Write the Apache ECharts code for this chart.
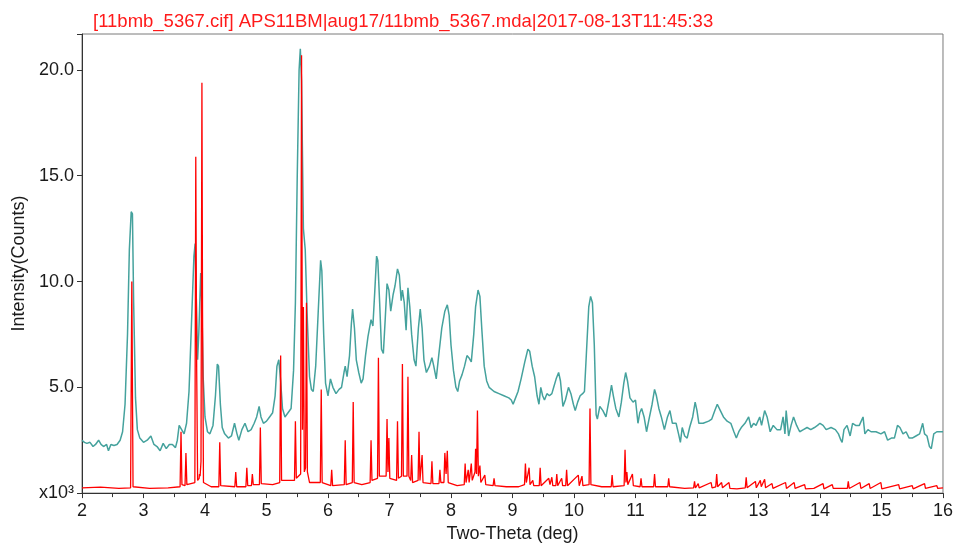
<!DOCTYPE html>
<html>
<head>
<meta charset="utf-8">
<script src="https://cdn.jsdelivr.net/npm/echarts@6/dist/echarts.min.js"></script>
<style>html,body{margin:0;padding:0;background:#fff;}#c{width:956px;height:548px;}</style>
</head>
<body>
<div id="c"></div>
<script>
const titleText = "[11bmb_5367.cif] APS11BM|aug17/11bmb_5367.mda|2017-08-13T11:45:33";
const xTicks = [2,3,4,5,6,7,8,9,10,11,12,13,14,15,16];
const yTicks = [0,5,10,15,20];

// measured pattern (teal), [two-theta, intensity x10^3]
const measured = [
[2.00,2.5],[2.04,2.4],[2.08,2.35],[2.13,2.4],[2.18,2.2],[2.22,2.3],[2.27,2.5],[2.31,2.3],[2.35,2.2],[2.40,2.3],
[2.43,2.0],[2.47,2.3],[2.52,2.25],[2.57,2.3],[2.62,2.5],[2.66,2.9],[2.70,4.2],[2.74,7.5],[2.77,11.5],[2.80,13.3],
[2.82,13.2],[2.84,9.0],[2.87,4.5],[2.90,3.0],[2.94,2.6],[3.00,2.4],[3.06,2.5],[3.12,2.7],[3.17,2.3],[3.22,2.2],
[3.27,2.0],[3.32,2.35],[3.37,2.1],[3.42,2.3],[3.47,2.3],[3.52,2.15],[3.55,2.5],[3.58,3.2],[3.62,3.0],[3.66,2.8],
[3.70,3.3],[3.74,4.8],[3.78,8.0],[3.82,11.2],[3.84,11.8],[3.86,9.0],[3.88,6.3],[3.90,7.6],[3.93,10.4],[3.95,8.8],
[3.97,5.5],[4.00,3.6],[4.04,2.9],[4.08,2.8],[4.13,3.2],[4.17,4.6],[4.20,6.1],[4.22,6.0],[4.25,4.2],[4.28,3.1],
[4.32,2.8],[4.38,2.6],[4.43,2.7],[4.48,3.3],[4.52,2.8],[4.55,2.5],[4.60,3.0],[4.65,3.3],[4.70,2.9],[4.75,3.0],
[4.80,3.3],[4.84,3.6],[4.88,4.1],[4.91,3.6],[4.95,3.3],[5.00,3.4],[5.05,3.6],[5.10,3.8],[5.14,4.6],[5.17,6.0],
[5.20,6.3],[5.23,5.3],[5.26,4.0],[5.30,3.6],[5.35,3.8],[5.40,4.0],[5.44,5.8],[5.47,9.0],[5.50,15.0],[5.53,20.0],
[5.55,21.0],[5.57,19.5],[5.60,12.5],[5.63,11.5],[5.66,8.5],[5.70,5.5],[5.73,4.9],[5.76,4.8],[5.80,6.0],[5.84,8.5],
[5.88,11.0],[5.90,10.5],[5.93,7.5],[5.96,5.2],[6.00,4.6],[6.04,5.4],[6.08,5.0],[6.13,4.7],[6.18,4.9],[6.22,5.0],
[6.26,5.7],[6.28,6.0],[6.31,5.5],[6.35,6.5],[6.38,8.0],[6.40,8.7],[6.43,7.8],[6.46,6.3],[6.50,5.7],[6.54,5.2],
[6.57,5.4],[6.61,6.5],[6.65,7.4],[6.70,8.2],[6.73,7.9],[6.76,9.5],[6.79,11.2],[6.81,11.0],[6.84,9.0],[6.87,6.8],
[6.90,6.6],[6.93,8.2],[6.96,9.9],[6.99,9.6],[7.02,8.6],[7.06,9.4],[7.09,9.8],[7.13,10.6],[7.16,10.3],[7.19,9.1],
[7.21,9.6],[7.24,9.0],[7.27,7.7],[7.30,9.7],[7.33,8.8],[7.36,7.5],[7.40,6.3],[7.43,6.0],[7.47,7.8],[7.50,8.7],
[7.53,7.8],[7.56,6.3],[7.60,5.7],[7.65,6.0],[7.69,6.4],[7.72,6.0],[7.76,5.4],[7.80,6.5],[7.85,7.8],[7.90,8.6],
[7.94,8.9],[7.97,8.4],[8.00,7.0],[8.04,5.8],[8.08,5.0],[8.11,4.8],[8.14,5.3],[8.18,5.6],[8.22,6.0],[8.26,6.5],
[8.29,6.4],[8.33,6.2],[8.37,7.5],[8.40,8.8],[8.44,9.6],[8.47,9.3],[8.50,7.8],[8.54,6.0],[8.58,5.3],[8.62,5.0],
[8.70,4.8],[8.78,4.7],[8.86,4.6],[8.94,4.5],[8.98,4.4],[9.01,4.2],[9.05,4.5],[9.09,4.8],[9.14,5.4],[9.20,6.2],
[9.25,6.8],[9.28,6.7],[9.32,6.0],[9.36,5.5],[9.40,4.6],[9.43,4.2],[9.46,5.0],[9.49,4.6],[9.52,4.4],[9.56,4.7],
[9.60,4.6],[9.64,4.7],[9.67,5.0],[9.71,5.4],[9.75,5.7],[9.78,5.3],[9.82,4.1],[9.86,4.4],[9.91,5.0],[9.95,4.7],
[9.99,4.2],[10.02,3.9],[10.06,4.3],[10.10,4.6],[10.14,4.7],[10.17,4.8],[10.20,6.5],[10.24,8.8],[10.27,9.3],[10.30,9.0],
[10.33,7.0],[10.36,3.7],[10.38,3.5],[10.42,4.1],[10.47,3.9],[10.52,3.6],[10.57,4.4],[10.61,5.1],[10.64,4.6],[10.68,4.0],
[10.73,3.6],[10.77,4.3],[10.81,5.2],[10.84,5.7],[10.87,5.3],[10.91,4.5],[10.96,4.3],[11.00,4.4],[11.04,3.3],[11.07,3.8],
[11.10,4.0],[11.14,3.6],[11.18,2.9],[11.22,3.5],[11.27,4.2],[11.31,4.9],[11.34,4.6],[11.38,4.0],[11.42,3.6],[11.47,3.0],
[11.52,3.6],[11.56,3.9],[11.60,3.3],[11.66,3.3],[11.70,2.8],[11.73,2.4],[11.76,3.1],[11.80,2.7],[11.84,2.6],[11.88,3.1],
[11.93,3.6],[11.97,4.3],[12.00,3.9],[12.03,3.3],[12.10,3.3],[12.19,3.4],[12.24,3.5],[12.29,3.9],[12.33,4.2],[12.38,3.9],
[12.43,3.6],[12.49,3.4],[12.55,3.3],[12.60,2.9],[12.64,2.6],[12.68,2.9],[12.72,3.1],[12.78,3.3],[12.84,3.6],[12.88,3.1],
[12.92,3.3],[12.96,3.2],[13.02,3.6],[13.05,3.2],[13.10,3.9],[13.14,3.6],[13.19,2.9],[13.24,3.2],[13.30,3.0],[13.36,3.0],
[13.40,3.6],[13.43,2.8],[13.45,3.9],[13.49,2.7],[13.53,3.2],[13.57,3.6],[13.62,3.2],[13.67,2.9],[13.73,3.0],[13.79,3.1],
[13.85,3.0],[13.91,3.1],[13.96,3.2],[14.00,3.3],[14.05,3.2],[14.10,3.0],[14.18,3.1],[14.25,3.0],[14.30,2.8],[14.34,2.5],
[14.36,2.4],[14.39,3.0],[14.44,3.2],[14.49,2.7],[14.53,3.3],[14.58,3.2],[14.64,3.2],[14.70,3.6],[14.73,2.8],[14.78,3.0],
[14.83,2.9],[14.91,2.9],[14.99,2.8],[15.05,2.9],[15.10,2.5],[15.16,2.6],[15.21,2.6],[15.26,3.2],[15.30,3.1],[15.35,2.8],
[15.40,2.9],[15.45,2.6],[15.50,2.6],[15.56,2.7],[15.62,2.8],[15.67,3.3],[15.70,2.8],[15.74,2.7],[15.78,2.2],[15.81,2.1],
[15.85,2.8],[15.90,2.9],[15.95,2.9],[16.00,2.9]
];

// calculated pattern from cif (red), [two-theta, intensity x10^3]
const calculated = [
[2.00,0.25],[2.30,0.28],[2.60,0.22],[2.79,0.25],[2.81,10.0],[2.83,0.3],[3.10,0.22],[3.40,0.25],[3.595,0.3],[3.61,2.9],
[3.625,0.4],[3.675,0.35],[3.69,1.9],[3.705,0.4],[3.835,0.5],[3.85,15.9],[3.865,5.8],[3.88,0.6],[3.905,0.7],[3.91,0.9],
[3.92,0.8],[3.935,1.5],[3.95,19.4],[3.96,8.5],[3.975,0.5],[4.10,0.3],[4.225,0.3],[4.24,2.4],[4.255,0.35],[4.485,0.3],
[4.50,1.0],[4.515,0.3],[4.665,0.3],[4.68,1.2],[4.695,0.35],[4.755,0.35],[4.77,0.9],[4.785,0.4],[4.885,0.4],[4.90,3.1],
[4.915,0.45],[5.10,0.4],[5.215,0.5],[5.23,6.5],[5.245,0.6],[5.455,0.6],[5.47,3.4],[5.485,0.7],[5.555,0.9],[5.57,20.7],
[5.585,3.0],[5.60,8.8],[5.615,1.0],[5.635,1.2],[5.65,9.0],[5.665,1.0],[5.70,0.5],[5.875,0.5],[5.89,4.9],[5.905,0.5],
[6.045,0.35],[6.06,1.1],[6.075,0.35],[6.265,0.4],[6.28,2.5],[6.295,0.4],[6.395,0.5],[6.41,4.3],[6.425,0.5],[6.55,0.4],
[6.685,0.5],[6.70,2.5],[6.715,0.6],[6.805,0.7],[6.82,6.4],[6.835,0.8],[6.945,0.8],[6.96,3.5],[6.975,1.0],[6.99,2.6],
[7.005,0.7],[7.115,0.6],[7.13,3.4],[7.145,0.7],[7.195,0.8],[7.21,6.1],[7.225,0.8],[7.285,0.8],[7.30,5.5],[7.315,0.8],
[7.345,0.6],[7.36,1.8],[7.375,0.5],[7.465,0.6],[7.48,2.9],[7.495,0.6],[7.53,1.8],[7.545,0.5],[7.675,0.45],[7.69,1.5],
[7.705,0.45],[7.805,0.45],[7.82,1.1],[7.835,0.5],[7.885,0.5],[7.90,1.9],[7.92,0.9],[7.94,2.0],[7.955,0.5],[8.10,0.35],
[8.215,0.4],[8.23,1.4],[8.245,0.5],[8.28,1.1],[8.295,0.5],[8.33,1.4],[8.345,0.6],[8.39,1.0],[8.40,2.1],[8.415,0.9],
[8.43,3.9],[8.445,0.8],[8.47,1.3],[8.485,0.5],[8.55,0.85],[8.565,0.4],[8.685,0.35],[8.70,0.7],[8.715,0.35],[8.90,0.3],
[9.10,0.3],[9.195,0.4],[9.21,1.4],[9.225,0.5],[9.255,0.5],[9.27,1.2],[9.285,0.4],[9.33,0.6],[9.345,0.35],[9.435,0.35],
[9.45,1.2],[9.465,0.35],[9.59,0.7],[9.61,0.4],[9.64,0.75],[9.655,0.35],[9.705,0.35],[9.72,0.9],[9.735,0.35],[9.80,0.7],
[9.815,0.35],[9.865,0.35],[9.88,1.1],[9.895,0.35],[10.07,0.85],[10.085,0.35],[10.13,0.8],[10.145,0.35],[10.245,0.4],[10.26,4.0],
[10.275,0.4],[10.45,0.3],[10.605,0.3],[10.62,0.85],[10.635,0.3],[10.815,0.35],[10.83,2.05],[10.845,0.5],[10.86,1.0],[10.875,0.4],
[10.95,0.9],[10.965,0.35],[11.075,0.3],[11.09,0.7],[11.105,0.3],[11.295,0.3],[11.31,0.9],[11.325,0.3],[11.525,0.3],[11.54,0.7],
[11.555,0.3],[11.80,0.22],[11.945,0.25],[11.96,0.55],[11.975,0.25],[12.02,0.45],[12.035,0.25],[12.23,0.5],[12.245,0.25],[12.305,0.3],
[12.32,0.9],[12.335,0.3],[12.40,0.5],[12.415,0.25],[12.52,0.5],[12.535,0.22],[12.65,0.2],[12.785,0.25],[12.80,0.75],[12.815,0.25],
[12.95,0.55],[12.965,0.25],[13.03,0.6],[13.045,0.3],[13.10,0.65],[13.115,0.25],[13.22,0.45],[13.235,0.22],[13.44,0.5],[13.455,0.22],
[13.58,0.5],[13.595,0.22],[13.75,0.4],[13.765,0.2],[13.90,0.22],[14.05,0.45],[14.065,0.2],[14.20,0.4],[14.215,0.22],[14.445,0.22],
[14.46,0.56],[14.475,0.22],[14.65,0.5],[14.665,0.22],[14.80,0.45],[14.815,0.22],[14.99,0.5],[15.005,0.2],[15.28,0.4],[15.295,0.2],
[15.50,0.35],[15.515,0.2],[15.70,0.45],[15.715,0.22],[15.90,0.35],[15.915,0.22],[16.00,0.25]
];

const FONT = 'Liberation Sans, Arial, sans-serif';
const chart = echarts.init(document.getElementById('c'), null, {renderer: 'canvas'});
chart.setOption({
  animation: false,
  backgroundColor: '#ffffff',
  title: {
    text: titleText, left: 88, top: 7,
    textStyle: {color: '#ff1a1a', fontSize: 18.5, fontWeight: 'normal', fontFamily: FONT}
  },
  grid: {left: 82, right: 11, top: 34, bottom: 50, show: true, borderColor: '#7a7a7a', borderWidth: 1, backgroundColor: 'transparent'},
  xAxis: {
    type: 'value', min: xTicks[0], max: xTicks[xTicks.length - 1], interval: 1,
    name: 'Two-Theta (deg)', nameLocation: 'middle', nameGap: 29,
    nameTextStyle: {color: '#1a1a1a', fontSize: 18, fontFamily: FONT},
    axisLine: {show: true, onZero: false, lineStyle: {color: '#333', width: 1}},
    axisTick: {show: true, length: 5, lineStyle: {color: '#333'}},
    minorTick: {show: true, splitNumber: 2, length: 4, lineStyle: {color: '#333'}},
    splitLine: {show: false},
    axisLabel: {color: '#1a1a1a', fontSize: 18, fontFamily: FONT, margin: 9}
  },
  yAxis: {
    type: 'value', min: 0, max: 21.7, interval: 5,
    name: 'Intensity(Counts)', nameLocation: 'middle', nameGap: 51,
    nameTextStyle: {color: '#1a1a1a', fontSize: 18, fontFamily: FONT},
    axisLine: {show: true, lineStyle: {color: '#333', width: 1}},
    axisTick: {show: true, length: 5, lineStyle: {color: '#333'}},
    splitLine: {show: false},
    axisLabel: {
      color: '#1a1a1a', fontSize: 18, fontFamily: FONT, margin: 8,
      formatter: function (v) { return v === 0 ? 'x10\u00B3' : (yTicks.indexOf(v) >= 0 ? v.toFixed(1) : ''); }
    }
  },
  series: [
    {
      name: 'measured', type: 'line', data: measured, showSymbol: false, symbol: 'none',
      sampling: null, lineStyle: {color: '#45a29d', width: 1.5}, z: 2
    },
    {
      name: 'calculated', type: 'line', data: calculated, showSymbol: false, symbol: 'none',
      lineStyle: {color: '#ff0000', width: 1.3}, z: 3
    }
  ]
});
</script>
</body>
</html>
